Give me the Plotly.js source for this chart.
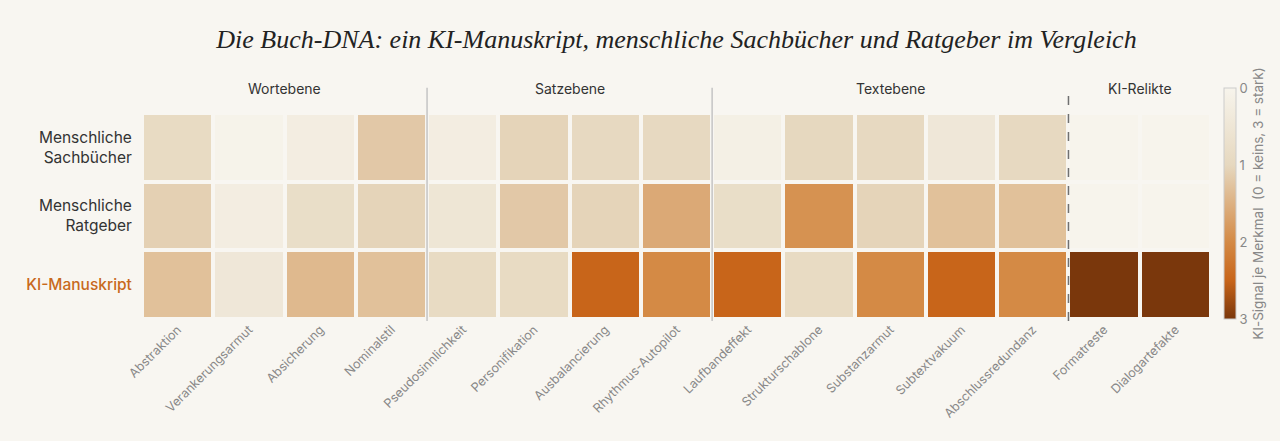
<!DOCTYPE html>
<html>
<head>
<meta charset="utf-8">
<script src="https://cdn.plot.ly/plotly-3.0.1.min.js"></script>
<style>
html,body{margin:0;padding:0;background:#f8f6f1;}
#chart{width:1280px;height:441px;}
</style>
</head>
<body>
<div id="chart"></div>
<script>
const features = ["Abstraktion","Verankerungsarmut","Absicherung","Nominalstil","Pseudosinnlichkeit","Personifikation","Ausbalancierung","Rhythmus-Autopilot","Laufbandeffekt","Strukturschablone","Substanzarmut","Subtextvakuum","Abschlussredundanz","Formatreste","Dialogartefakte"];
const rows = ["Menschliche Sachbücher","Menschliche Ratgeber","KI-Manuskript"];
const rowLabels = ["Menschliche<br>Sachbücher","Menschliche<br>Ratgeber","<span style=\"color:#c8691c;font-weight:500\">KI-Manuskript</span>"];
const sachbuecher = [0.9,0.05,0.25,1.2,0.25,1.05,0.95,0.95,0.15,1.0,0.95,0.45,0.95,0,0];
const ratgeber    = [1.1,0.25,0.8,1.05,0.5,1.2,1.05,1.6,0.8,1.9,1.05,1.3,1.3,0,0];
const kiManuskript= [1.3,0.45,1.4,1.3,0.9,0.9,2.5,2.0,2.5,0.9,2.0,2.5,2.0,3,3];
const groups = [
  {name:"Wortebene", from:0, to:3},
  {name:"Satzebene", from:4, to:7},
  {name:"Textebene", from:8, to:12},
  {name:"KI-Relikte", from:13, to:14}
];
const dividers = [{at:3.5, dash:"solid"},{at:7.5, dash:"solid"},{at:12.5, dash:"dash"}];
const cbTicks = [0,1,2,3];

// negate values so the colorbar reads 0 at the top and 3 at the bottom
const zNeg = [sachbuecher, ratgeber, kiManuskript].map(r => r.map(v => -v));
const textVals = [sachbuecher, ratgeber, kiManuskript];

const colorscale = [
  [0, "#7a370c"],
  [0.167, "#c8651a"],
  [0.333, "#d48a45"],
  [0.667, "#e6d8bf"],
  [1, "#f7f4ec"]
];

const trace = {
  type: "heatmap",
  x: features,
  y: rows,
  z: zNeg,
  customdata: textVals,
  hovertemplate: "%{y}<br>%{x}: %{customdata}<extra></extra>",
  zmin: -3, zmax: 0,
  colorscale: colorscale,
  xgap: 4, ygap: 4,
  colorbar: {
    x: 1.012, xanchor: "left", xpad: 0,
    y: 0, yanchor: "bottom", ypad: 0,
    len: 231, lenmode: "pixels",
    thickness: 12,
    outlinecolor: "#cccccc", outlinewidth: 1,
    tickvals: cbTicks.map(v => -v),
    ticktext: cbTicks.map(String),
    ticks: "",
    tickfont: {family: "Inter, sans-serif", size: 13, color: "#888888"},
    title: {text: "KI-Signal je Merkmal  (0 = keins, 3 = stark)", side: "right",
            font: {family: "Inter, sans-serif", size: 13.5, color: "#888888"}}
  }
};

const shapes = dividers.map(d => ({
  type: "line", xref: "x", yref: "paper",
  x0: d.at, x1: d.at, y0: -0.01, y1: 1.122,
  line: {color: d.dash === "dash" ? "#707070" : "#c4c4c4", width: 1.5, dash: d.dash}
}));

const annotations = groups.map(g => ({
  text: g.name, xref: "x", yref: "paper",
  x: (g.from + g.to) / 2, y: 1.121,
  showarrow: false, yanchor: "middle", xanchor: "center",
  font: {family: "Inter, sans-serif", size: 14, color: "#333333"}
}));

const layout = {
  width: 1280, height: 441,
  paper_bgcolor: "#f8f6f1", plot_bgcolor: "#f8f6f1",
  margin: {l: 142, r: 69, t: 113, b: 122},
  title: {
    text: "<i>Die Buch-DNA: ein KI-Manuskript, menschliche Sachbücher und Ratgeber im Vergleich</i>",
    x: 0.5, xref: "paper", y: 0.912, yref: "container", yanchor: "middle",
    font: {family: "Liberation Serif, serif", size: 26, color: "#222222"}
  },
  xaxis: {
    type: "category", tickangle: -45, showgrid: false, zeroline: false,
    ticks: "", showline: false,
    tickfont: {family: "Inter, sans-serif", size: 12.5, color: "#888888"}
  },
  yaxis: {
    type: "category", autorange: "reversed", showgrid: false, zeroline: false,
    tickvals: rows, ticktext: rowLabels,
    ticks: "outside", ticklen: 6, tickcolor: "rgba(0,0,0,0)",
    tickfont: {family: "Inter, sans-serif", size: 15.5, color: "#333333"}
  },
  shapes: shapes,
  annotations: annotations
};

Plotly.newPlot("chart", [trace], layout, {displayModeBar: false, responsive: false});
</script>
</body>
</html>
